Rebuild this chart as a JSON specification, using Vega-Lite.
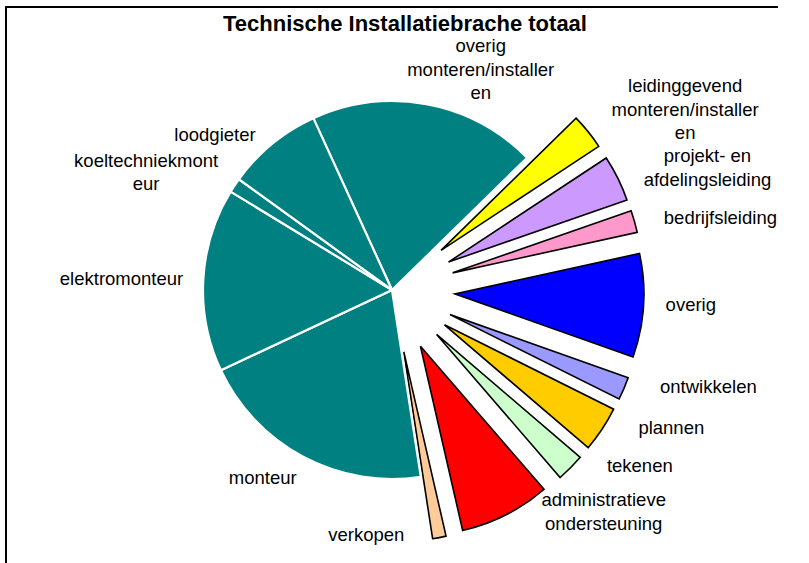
{
  "$schema": "https://vega.github.io/schema/vega-lite/v6.json",
  "autosize": {"type": "none"},
  "padding": {"left": 6, "top": 7, "right": 31, "bottom": 0},
  "width": 772,
  "height": 566,
  "background": "#ffffff",
  "view": {"stroke": "#000000", "strokeWidth": 2, "strokeDash": [772, 1338, 566, 20]},
  "config": {
    "text": {"font": "Liberation Sans"}
  },
  "title": {
    "text": "Technische Installatiebrache totaal",
    "font": "Liberation Sans",
    "fontSize": 22,
    "fontWeight": "bold",
    "color": "#000000",
    "orient": "none",
    "anchor": "middle",
    "align": "center",
    "baseline": "alphabetic",
    "dx": 399,
    "dy": 24
  },
  "data": {
    "values": [
      {"nr": 1, "functie": "overig monteren/installeren", "label": "overig\nmonteren/installer\nen", "groep": "monteren/installeren", "aandeel": 19.5},
      {"nr": 2, "functie": "leidinggevend monteren/installeren", "label": "leidinggevend\nmonteren/installer\nen", "groep": "overige functies", "aandeel": 3.05},
      {"nr": 3, "functie": "projekt- en afdelingsleiding", "label": "projekt- en\nafdelingsleiding", "groep": "overige functies", "aandeel": 3.95},
      {"nr": 4, "functie": "bedrijfsleiding", "label": "bedrijfsleiding", "groep": "overige functies", "aandeel": 1.9},
      {"nr": 5, "functie": "overig", "label": "overig", "groep": "overige functies", "aandeel": 8.85},
      {"nr": 6, "functie": "ontwikkelen", "label": "ontwikkelen", "groep": "overige functies", "aandeel": 1.95},
      {"nr": 7, "functie": "plannen", "label": "plannen", "groep": "overige functies", "aandeel": 3.9},
      {"nr": 8, "functie": "tekenen", "label": "tekenen", "groep": "overige functies", "aandeel": 2.4},
      {"nr": 9, "functie": "administratieve ondersteuning", "label": "administratieve\nondersteuning", "groep": "overige functies", "aandeel": 7.75},
      {"nr": 10, "functie": "verkopen", "label": "verkopen", "groep": "overige functies", "aandeel": 1.15},
      {"nr": 11, "functie": "monteur", "label": "monteur", "groep": "monteren/installeren", "aandeel": 20.45},
      {"nr": 12, "functie": "elektromonteur", "label": "elektromonteur", "groep": "monteren/installeren", "aandeel": 15.7},
      {"nr": 13, "functie": "koeltechniekmonteur", "label": "koeltechniekmont\neur", "groep": "monteren/installeren", "aandeel": 1.25},
      {"nr": 14, "functie": "loodgieter", "label": "loodgieter", "groep": "monteren/installeren", "aandeel": 8.2}
    ]
  },
  "encoding": {
    "theta": {"field": "aandeel", "type": "quantitative", "stack": true, "scale": {"range": [-0.4294, 5.8538]}},
    "order": {"field": "nr", "type": "quantitative"}
  },
  "layer": [
    {
      "mark": {
        "type": "arc",
        "radius": 189,
        "xOffset": {"expr": "(datum.groep == 'monteren/installeren' ? 0 : 63) * sin(scale('theta', (datum.aandeel_start + datum.aandeel_end) / 2))"},
        "yOffset": {"expr": "-(datum.groep == 'monteren/installeren' ? 0 : 63) * cos(scale('theta', (datum.aandeel_start + datum.aandeel_end) / 2))"}
      },
      "encoding": {
        "color": {
          "field": "functie",
          "type": "nominal",
          "legend": null,
          "scale": {
            "domain": ["overig monteren/installeren", "leidinggevend monteren/installeren", "projekt- en afdelingsleiding", "bedrijfsleiding", "overig", "ontwikkelen", "plannen", "tekenen", "administratieve ondersteuning", "verkopen", "monteur", "elektromonteur", "koeltechniekmonteur", "loodgieter"],
            "range": ["#008080", "#FFFF00", "#CC99FF", "#FF99CC", "#0000FF", "#9999FF", "#FFCC00", "#CCFFCC", "#FF0000", "#FFCC99", "#008080", "#008080", "#008080", "#008080"]
          }
        },
        "stroke": {"condition": {"test": "datum.groep == 'monteren/installeren'", "value": "#ffffff"}, "value": "#000000"},
        "strokeWidth": {"condition": {"test": "datum.groep == 'monteren/installeren'", "value": 2.2}, "value": 1.6},
        "opacity": {"value": 1}
      }
    },
    {
      "mark": {
        "type": "text",
        "font": "Liberation Sans",
        "fontSize": 18.5,
        "lineHeight": 23.5,
        "lineBreak": "\n",
        "align": "center",
        "baseline": "middle",
        "color": "#000000",
        "xOffset": {"expr": "(datum.groep == 'monteren/installeren' ? 0 : 63) * sin(scale('theta', (datum.aandeel_start + datum.aandeel_end) / 2)) + (abs(sin(scale('theta', (datum.aandeel_start + datum.aandeel_end) / 2))) <= 0.3 && cos(scale('theta', (datum.aandeel_start + datum.aandeel_end) / 2)) < 0 ? -4.7 * max(length(split(datum.label, '\\n')[0]), length(split(datum.label, '\\n')[1] || ''), length(split(datum.label, '\\n')[2] || '')) : (205 + (sin(scale('theta', (datum.aandeel_start + datum.aandeel_end) / 2)) > 0 ? 50 : 0) * max(0, -cos(scale('theta', (datum.aandeel_start + datum.aandeel_end) / 2)))) * sin(scale('theta', (datum.aandeel_start + datum.aandeel_end) / 2)) + max(-1, min(1, sin(scale('theta', (datum.aandeel_start + datum.aandeel_end) / 2)) / 0.3)) * 4.7 * max(length(split(datum.label, '\\n')[0]), length(split(datum.label, '\\n')[1] || ''), length(split(datum.label, '\\n')[2] || '')))"},
        "yOffset": {"expr": "-(datum.groep == 'monteren/installeren' ? 0 : 63) * cos(scale('theta', (datum.aandeel_start + datum.aandeel_end) / 2)) - (186 + (sin(scale('theta', (datum.aandeel_start + datum.aandeel_end) / 2)) < -0.3 ? 30 : 0) * max(0, -cos(scale('theta', (datum.aandeel_start + datum.aandeel_end) / 2)))) * cos(scale('theta', (datum.aandeel_start + datum.aandeel_end) / 2)) - max(cos(scale('theta', (datum.aandeel_start + datum.aandeel_end) / 2)), 0) * (12 * length(split(datum.label, '\\n')) + 2) - 11.75 * (length(split(datum.label, '\\n')) - 1)"}
      },
      "encoding": {
        "text": {"field": "label", "type": "nominal"}
      }
    }
  ]
}
